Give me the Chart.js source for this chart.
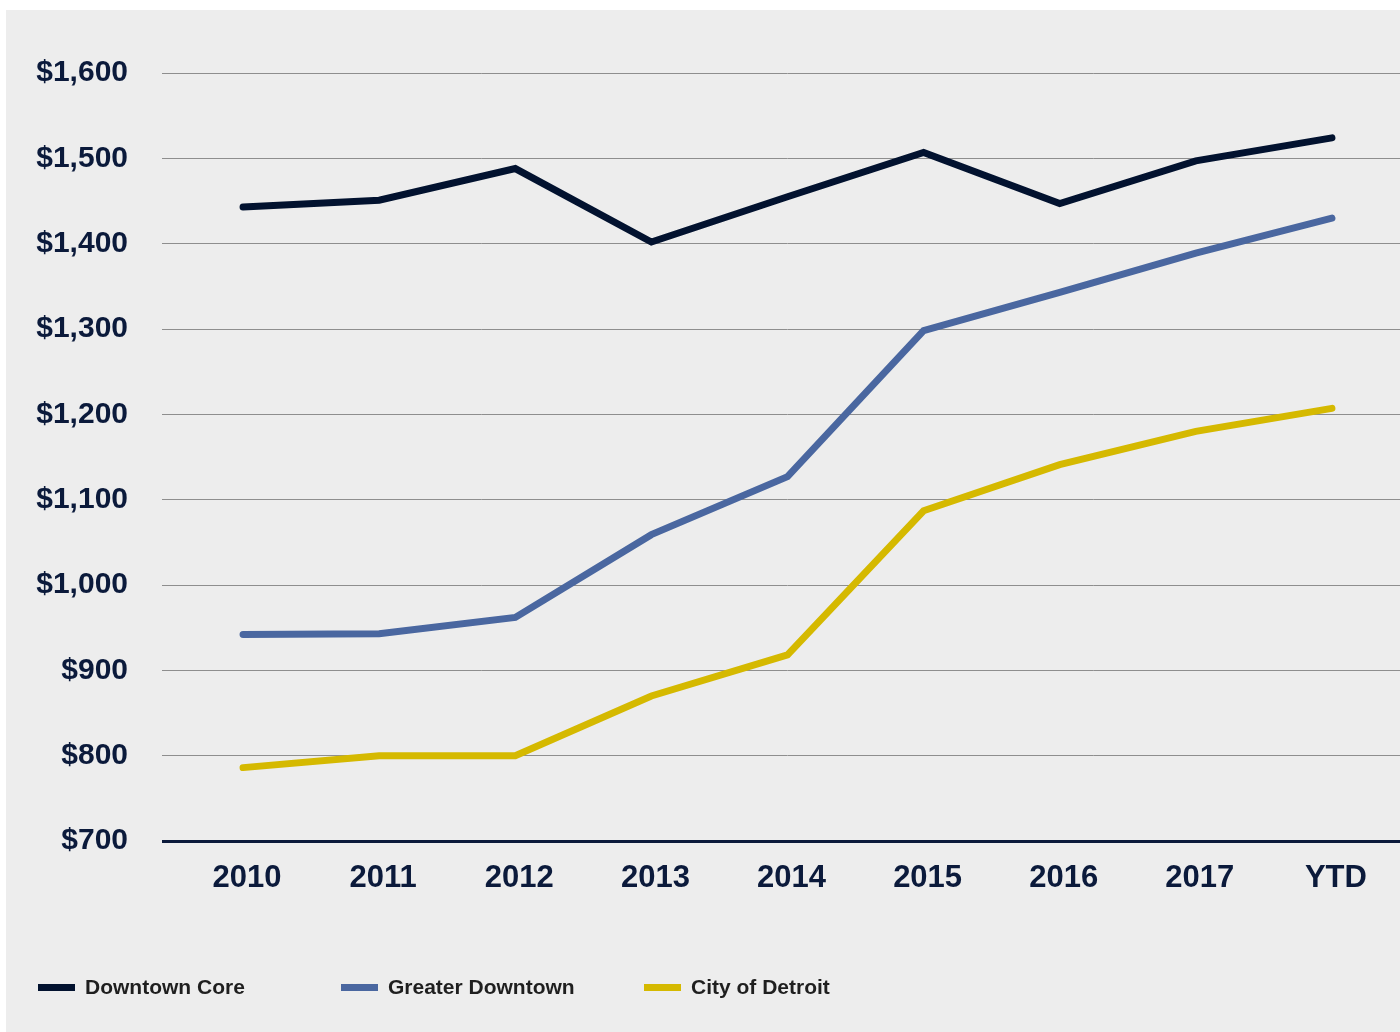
<!DOCTYPE html>
<html>
<head>
<meta charset="utf-8">
<script src="https://cdn.jsdelivr.net/npm/chart.js@4"></script>
<style>
  body { margin: 0; background: #fff; font-family: "Liberation Sans", Arial, sans-serif; }
  #panel { position: absolute; left: 6px; top: 10px; width: 1394px; height: 1022px; background: #ededed; }
  #legend { position: absolute; left: 32px; top: 955px; display: flex; }
  .item { width: 303px; display: flex; align-items: center; height: 44px; }
  .swatch { width: 37px; height: 7px; margin-right: 10px; }
  .label { font-size: 21px; font-weight: bold; color: #1f1f1f; }
</style>
</head>
<body>
<div id="panel">
  <canvas id="rentChart" width="1394" height="1022"></canvas>
  <div id="legend"></div>
</div>
<script>
// chart data
const categories = ['2010', '2011', '2012', '2013', '2014', '2015', '2016', '2017', 'YTD'];
const downtownCore = [1443, 1451, 1488, 1402, 1455, 1507, 1447, 1497, 1524];
const greaterDowntown = [942, 943, 962, 1059, 1127, 1298, 1343, 1389, 1430];
const cityOfDetroit = [786, 800, 800, 870, 918, 1087, 1141, 1180, 1207];

const seriesNames = ['Downtown Core', 'Greater Downtown', 'City of Detroit'];
const seriesColors = ['#02122f', '#4a67a0', '#d5b900'];
const tickColor = '#0b1a3b';

function makeLine(i, values) {
  return {
    label: seriesNames[i],
    data: values,
    borderColor: seriesColors[i],
    backgroundColor: seriesColors[i],
    borderWidth: 7,
    borderCapStyle: 'round',
    pointRadius: 0,
    tension: 0
  };
}

const ctx = document.getElementById('rentChart').getContext('2d');
const rentChart = new Chart(ctx, {
  type: 'line',
  data: {
    labels: categories,
    datasets: [
      makeLine(0, downtownCore),
      makeLine(1, greaterDowntown),
      makeLine(2, cityOfDetroit)
    ]
  },
  options: {
    responsive: false,
    animation: false,
    layout: { padding: { top: 63, left: 0, right: 0, bottom: 0 } },
    plugins: {
      legend: { display: false },
      tooltip: { enabled: false }
    },
    scales: {
      x: {
        offset: true,
        grid: { display: false, drawTicks: false },
        border: { display: false },
        ticks: {
          color: tickColor,
          font: { family: '"Liberation Sans", Arial, sans-serif', size: 31, weight: 'bold' },
          padding: 19,
          labelOffset: 4,
          maxRotation: 0,
          autoSkip: false
        },
        afterFit: function (scale) { scale.height = 191; }
      },
      y: {
        min: 700,
        max: 1600,
        border: { display: false },
        grid: {
          drawTicks: true,
          tickLength: 13,
          color: function (c) { return c.tick && c.tick.value === 700 ? '#0b1a3b' : '#8e8e8e'; },
          lineWidth: function (c) { return c.tick && c.tick.value === 700 ? 3 : 1; }
        },
        ticks: {
          stepSize: 100,
          color: tickColor,
          font: { family: '"Liberation Sans", Arial, sans-serif', size: 30, weight: 'bold' },
          padding: 34,
          callback: function (v) { return '$' + v.toLocaleString('en-US'); }
        },
        afterFit: function (scale) { scale.width = 169; }
      }
    }
  }
});

// html legend with fixed-width columns
const legendBox = document.getElementById('legend');
rentChart.data.datasets.forEach(function (ds) {
  const item = document.createElement('div');
  item.className = 'item';
  item.innerHTML = '<span class="swatch" style="background:' + ds.borderColor + '"></span>' +
    '<span class="label">' + ds.label + '</span>';
  legendBox.appendChild(item);
});
</script>
</body>
</html>
